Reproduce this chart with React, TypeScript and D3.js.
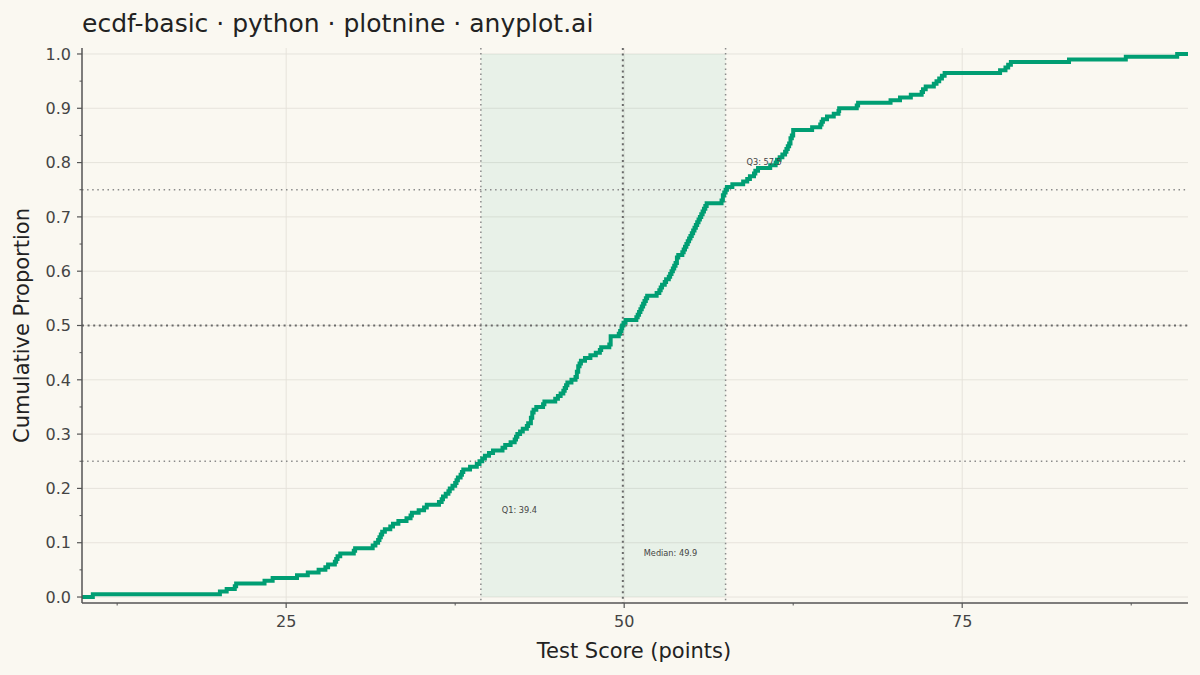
import React from 'react';
import * as d3 from 'd3';

// Sorted test scores (n = 200)
const scores = [
  10.7, 20.1, 20.6, 21.2, 21.3, 23.4, 24.0, 25.8, 26.6, 27.4,
  27.9, 28.1, 28.6, 28.7, 28.8, 29.0, 30.0, 30.1, 31.4, 31.6,
  31.8, 31.9, 32.0, 32.1, 32.3, 32.7, 32.9, 33.3, 33.9, 34.2,
  34.3, 34.8, 35.2, 35.4, 36.3, 36.5, 36.6, 36.8, 37.0, 37.1,
  37.3, 37.5, 37.6, 37.7, 37.9, 38.0, 38.1, 38.6, 39.1, 39.3,
  39.5, 39.7, 40.0, 40.3, 41.0, 41.2, 41.6, 41.9, 42.0, 42.1,
  42.3, 42.5, 42.8, 42.9, 43.1, 43.1, 43.2, 43.2, 43.3, 43.5,
  44.0, 44.1, 44.9, 45.1, 45.3, 45.5, 45.6, 45.7, 45.8, 46.1,
  46.4, 46.5, 46.5, 46.6, 46.6, 46.7, 46.8, 47.1, 47.5, 47.9,
  48.2, 48.3, 48.9, 49.0, 49.0, 49.0, 49.6, 49.7, 49.8, 49.85,
  49.95, 50.1, 50.9, 51.0, 51.1, 51.2, 51.3, 51.4, 51.5, 51.6,
  51.7, 52.4, 52.6, 52.7, 52.8, 53.0, 53.1, 53.3, 53.4, 53.5,
  53.6, 53.7, 53.8, 53.9, 53.9, 54.0, 54.3, 54.4, 54.5, 54.6,
  54.7, 54.8, 54.9, 55.0, 55.1, 55.2, 55.3, 55.4, 55.5, 55.6,
  55.7, 55.8, 55.9, 56.0, 56.1, 57.2, 57.3, 57.3, 57.4, 57.5,
  57.6, 58.0, 58.8, 59.1, 59.3, 59.6, 59.7, 59.9, 60.8, 61.2,
  61.3, 61.5, 61.7, 61.9, 62.0, 62.1, 62.2, 62.3, 62.3, 62.4,
  62.5, 62.5, 63.9, 64.5, 64.6, 64.7, 65.0, 65.5, 65.85, 65.9,
  67.2, 67.3, 69.7, 70.4, 71.2, 72.0, 72.1, 72.3, 72.9, 73.1,
  73.3, 73.5, 73.7, 77.8, 78.2, 78.4, 78.6, 82.9, 87.1, 90.9,
];

const quartileNames = ['Q1', 'Median', 'Q3'];
const quartileValues = [39.4, 49.9, 57.5];
const quartileLevels = [0.25, 0.5, 0.75];
const labelHeights = [0.16, 0.08, 0.8];

const xTicks = [25, 50, 75];
const xMinorTicks = [12.5, 37.5, 62.5, 87.5];
const yTicks = [0, 0.1, 0.2, 0.3, 0.4, 0.5, 0.6, 0.7, 0.8, 0.9, 1.0];
const yMinorTicks = [0.05, 0.15, 0.25, 0.35, 0.45, 0.55, 0.65, 0.75, 0.85, 0.95];

const W = 1200;
const H = 675;
const FONT = '"DejaVu Sans", sans-serif';
const GREEN = '#009E73';

export default function App() {
  const left = 82, right = 1188, top = 48, bottom = 603;

  const x = d3.scaleLinear().domain([9.9, 91.7]).range([left, right]);
  const y = d3.scaleLinear().domain([-0.011, 1.011]).range([bottom, top]);

  const n = scores.length;
  const pts: [number, number][] = [[x.domain()[0], 0]];
  scores.forEach((s, i) => pts.push([s, (i + 1) / n]));
  pts.push([x.domain()[1], 1]);

  const line = d3.line<[number, number]>()
    .x(d => x(d[0]))
    .y(d => y(d[1]))
    .curve(d3.curveStepAfter);

  // median lines are drawn a bit heavier than the quartile ones
  const refStroke = (i: number) => (i === 1 ? '#6a6a6a' : '#8a8a8a');
  const refWidth = (i: number) => (i === 1 ? 2 : 1.5);
  const refDash = (i: number) => (i === 1 ? '2 3.6' : '1.5 3.6');

  return (
    <svg width={W} height={H} style={{ position: 'absolute', left: 0, top: 0, background: '#FAF8F1' }}>
      <rect x={0} y={0} width={W} height={H} fill="#FAF8F1" />

      {/* grid */}
      {yTicks.map(t => (
        <line key={'gy' + t} x1={left} x2={right} y1={y(t)} y2={y(t)} stroke="#E4E1D9" strokeWidth={0.9} />
      ))}
      {xTicks.map(t => (
        <line key={'gx' + t} x1={x(t)} x2={x(t)} y1={top} y2={bottom} stroke="#E4E1D9" strokeWidth={0.9} />
      ))}

      {/* IQR band */}
      <rect x={x(quartileValues[0])} y={y(1)} width={x(quartileValues[2]) - x(quartileValues[0])}
        height={y(0) - y(1)} fill={GREEN} fillOpacity={0.07} />

      {/* reference lines */}
      {quartileLevels.map((q, i) => (
        <line key={'h' + q} x1={left} x2={right} y1={y(q)} y2={y(q)}
          stroke={refStroke(i)} strokeWidth={refWidth(i)} strokeDasharray={refDash(i)} />
      ))}
      {quartileValues.map((q, i) => (
        <line key={'v' + q} x1={x(q)} x2={x(q)} y1={top} y2={bottom}
          stroke={refStroke(i)} strokeWidth={refWidth(i)} strokeDasharray={refDash(i)} />
      ))}

      {/* ECDF */}
      <path d={line(pts) || ''} fill="none" stroke={GREEN} strokeWidth={4} strokeLinejoin="miter" />

      {/* annotations */}
      {quartileValues.map((q, i) => (
        <text key={'a' + q} x={x(q + 1.55)} y={y(labelHeights[i])} dy="0.35em"
          fontFamily={FONT} fontSize={8.2} fill="#444">
          {`${quartileNames[i]}: ${q}`}
        </text>
      ))}

      {/* axes */}
      <line x1={left} x2={left} y1={top} y2={bottom} stroke="#555" strokeWidth={1.5} />
      <line x1={left} x2={right} y1={bottom} y2={bottom} stroke="#555" strokeWidth={1.5} />
      {yTicks.map(t => (
        <g key={'yt' + t}>
          <line x1={left - 5} x2={left} y1={y(t)} y2={y(t)} stroke="#555" strokeWidth={1.2} />
          <text x={71} y={y(t)} dy="0.36em" textAnchor="end" fontFamily={FONT} fontSize={16} fill="#444">
            {t.toFixed(1)}
          </text>
        </g>
      ))}
      {yMinorTicks.map(t => (
        <line key={'ym' + t} x1={left - 2.5} x2={left} y1={y(t)} y2={y(t)} stroke="#555" strokeWidth={1} />
      ))}
      {xTicks.map(t => (
        <g key={'xt' + t}>
          <line x1={x(t)} x2={x(t)} y1={bottom} y2={bottom + 5} stroke="#555" strokeWidth={1.2} />
          <text x={x(t)} y={627} textAnchor="middle" fontFamily={FONT} fontSize={16} fill="#444">{t}</text>
        </g>
      ))}
      {xMinorTicks.map(t => (
        <line key={'xm' + t} x1={x(t)} x2={x(t)} y1={bottom} y2={bottom + 2.5} stroke="#555" strokeWidth={1} />
      ))}

      {/* labels */}
      <text x={634} y={658} textAnchor="middle" fontFamily={FONT} fontSize={21} fill="#222">Test Score (points)</text>
      <text transform={`translate(29, ${(top + bottom) / 2}) rotate(-90)`} textAnchor="middle"
        fontFamily={FONT} fontSize={21} fill="#222">Cumulative Proportion</text>
      <text x={82} y={32} fontFamily={FONT} fontSize={25} fill="#222">ecdf-basic · python · plotnine · anyplot.ai</text>
    </svg>
  );
}
